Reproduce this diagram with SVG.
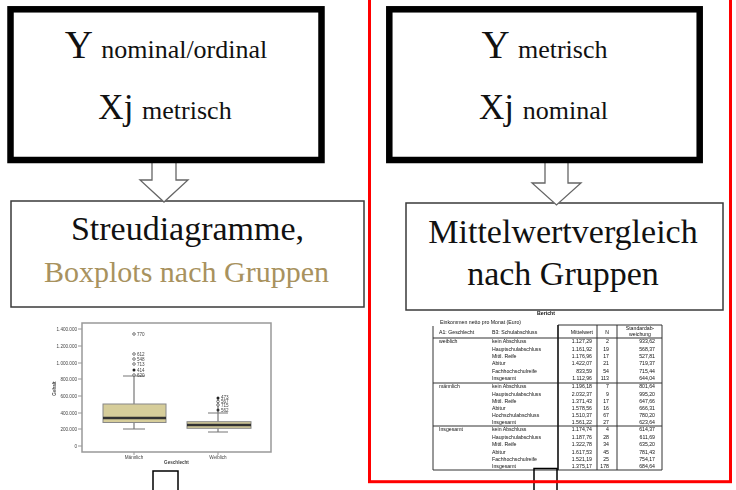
<svg xmlns="http://www.w3.org/2000/svg" width="736" height="490" viewBox="0 0 736 490">
<defs>
<style>
.serif{font-family:'Liberation Serif','DejaVu Serif','Times New Roman',Times,serif;fill:#111}
.thick{fill:#fff;stroke:#000;stroke-width:6.5}
.thin{fill:#fff;stroke:#3a3a3a;stroke-width:1.5}
.arrow{fill:#fff;stroke:#666;stroke-width:1.3}
.tiny{font-family:'Liberation Sans',Arial,sans-serif;font-size:4.6px;fill:#444}
.tb{font-family:'Liberation Sans',Arial,sans-serif;font-size:5.2px;fill:#111}
.grid{stroke:#333;stroke-width:1;fill:none}
.axis{stroke:#999;stroke-width:1;fill:none}
.whisk{stroke:#777;stroke-width:1.2;fill:none}
.bx{fill:#d6cd9a;stroke:#888;stroke-width:1}
.med{stroke:#333;stroke-width:2.4}
.out{fill:#fff;stroke:#555;stroke-width:0.8}
.stub{fill:none;stroke:#000;stroke-width:1.5}
</style>
<!-- the embedded chart and report are slightly soft -->
<filter id="soft" x="-5%" y="-5%" width="110%" height="110%"><feGaussianBlur stdDeviation="0.5"/></filter>
</defs>
<rect width="736" height="490" fill="#fff"/>

<!-- lower result boxes -->
<g id="node-streudiagramme">
<rect class="thin" x="11" y="201" width="353" height="106"/>
<text class="serif" x="187.5" y="240" font-size="34" text-anchor="middle">Streudiagramme,</text>
<text class="serif" x="186.5" y="282" font-size="30" text-anchor="middle" style="fill:#a8925e">Boxplots nach Gruppen</text>
</g>
<g id="node-mittelwertvergleich">
<rect class="thin" x="406" y="203" width="317" height="107"/>
<text class="serif" x="563" y="243" font-size="34" text-anchor="middle">Mittelwertvergleich</text>
<text class="serif" x="563" y="285" font-size="34" text-anchor="middle">nach Gruppen</text>
</g>

<!-- block arrows -->
<g id="connectors">
<path class="arrow" d="M152,160 L176,160 L176,180 L188,180 L164,202 L140,180 L152,180 Z"/>
<path class="arrow" d="M545,160 L568,160 L568,183 L581,183 L556.5,205 L532,183 L545,183 Z"/>
</g>

<!-- variable type boxes -->
<g id="node-y-nominal">
<rect class="thick" x="10.5" y="9.3" width="311" height="150.7"/>
<text class="serif" x="166" y="58" text-anchor="middle"><tspan font-size="39">Y </tspan><tspan font-size="26">nominal/ordinal</tspan></text>
<text class="serif" x="165" y="119" text-anchor="middle"><tspan font-size="35">Xj </tspan><tspan font-size="26">metrisch</tspan></text>
</g>
<g id="node-y-metrisch">
<rect class="thick" x="389.3" y="9.3" width="310.4" height="150.7"/>
<text class="serif" x="544.5" y="58" text-anchor="middle"><tspan font-size="39">Y </tspan><tspan font-size="26">metrisch</tspan></text>
<text class="serif" x="543.5" y="119" text-anchor="middle"><tspan font-size="35">Xj </tspan><tspan font-size="26">nominal</tspan></text>
</g>

<!-- boxplot chart -->
<g id="boxplot" filter="url(#soft)">
<rect x="82" y="323" width="189" height="129" fill="#fff" stroke="#999" stroke-width="1.5"/>
<g class="axis">
<path d="M78,329H82M78,346H82M78,363H82M78,379H82M78,396H82M78,413H82M78,429H82M78,446H82M134,452V455M218,452V455"/>
</g>
<g class="tiny" text-anchor="end">
<text x="77" y="330.5">1.400.000</text>
<text x="77" y="347.5">1.200.000</text>
<text x="77" y="364.5">1.000.000</text>
<text x="77" y="380.5">800.000</text>
<text x="77" y="397.5">600.000</text>
<text x="77" y="414.5">400.000</text>
<text x="77" y="430.5">200.000</text>
<text x="77" y="447.5">0</text>
</g>
<text class="tiny" x="54" y="388.5" text-anchor="middle" font-weight="bold" transform="rotate(-90 54 388.5)" dy="1.5">Gehalt</text>
<text class="tiny" x="134" y="458.5" text-anchor="middle">Männlich</text>
<text class="tiny" x="218" y="458.5" text-anchor="middle">Weiblich</text>
<text class="tiny" x="176.5" y="464" text-anchor="middle" font-weight="bold">Geschlecht</text>
<!-- group 1 -->
<path class="whisk" d="M134,376V404M134,422V429M123,376H145M123,429H145"/>
<rect class="bx" x="103" y="404" width="63" height="18.5"/>
<line class="med" x1="103" y1="418" x2="166" y2="418"/>
<circle class="out" cx="134" cy="334" r="1.3"/>
<circle class="out" cx="134" cy="354" r="1.3"/>
<circle class="out" cx="134" cy="359" r="1.3"/>
<circle class="out" cx="134" cy="364" r="1.3"/>
<circle cx="134" cy="370" r="1.5" fill="#222"/>
<circle class="out" cx="134" cy="375" r="1.3"/>
<g class="tiny">
<text x="137" y="335.5">770</text>
<text x="137" y="355.5">612</text>
<text x="137" y="360.5">548</text>
<text x="137" y="365.5">713</text>
<text x="137" y="371.5">414</text>
<text x="137" y="376.5">620</text>
</g>
<!-- group 2 -->
<path class="whisk" d="M218,398V422M218,428V432M208,413H228M208,432H228"/>
<rect class="bx" x="187" y="421.7" width="64" height="6.6"/>
<line class="med" x1="187" y1="425" x2="251" y2="425"/>
<circle cx="218" cy="398" r="1.5" fill="#222"/>
<circle class="out" cx="218" cy="401.5" r="1.3"/>
<circle class="out" cx="218" cy="405" r="1.3"/>
<circle cx="218" cy="410" r="1.5" fill="#333"/>
<g class="tiny">
<text x="221" y="399">473</text>
<text x="221" y="402.5">567</text>
<text x="221" y="406.5">715</text>
<text x="221" y="411.5">562</text>
</g>
</g>

<!-- report table -->
<g id="report-table" filter="url(#soft)">
<text class="tb" x="546" y="315" text-anchor="middle" font-weight="bold">Bericht</text>
<text class="tb" x="440" y="324">Einkommen netto pro Monat (Euro)</text>
<path class="grid" d="M433,326V470H662V325H558M433,338H662M433,383H662M433,426H662M597,325V470M617,325V470"/>
<path d="M558,325V470" stroke="#111" stroke-width="1.6"/>
<g class="tb">
<text x="439" y="333.5">A1: Geschlecht</text>
<text x="492" y="333.5">B3: Schulabschluss</text>
<text x="593" y="333.5" text-anchor="end">Mittelwert</text>
<text x="607" y="333.5" text-anchor="middle">N</text>
<text x="640" y="330" text-anchor="middle">Standardab-</text>
<text x="640" y="335.5" text-anchor="middle">weichung</text>
<text x="439" y="343.3">weiblich</text>
<text x="439" y="388.3">männlich</text>
<text x="439" y="431.3">Insgesamt</text>
</g>
<g class="tb">
<text x="492" y="343.3">kein Abschluss</text>
<text x="492" y="350.6">Hauptschulabschluss</text>
<text x="492" y="357.9">Mittl. Reife</text>
<text x="492" y="365.2">Abitur</text>
<text x="492" y="372.5">Fachhochschulreife</text>
<text x="492" y="379.8">Insgesamt</text>
<text x="492" y="388.3">kein Abschluss</text>
<text x="492" y="395.5">Hauptschulabschluss</text>
<text x="492" y="402.7">Mittl. Reife</text>
<text x="492" y="409.9">Abitur</text>
<text x="492" y="417.1">Hochschulabschluss</text>
<text x="492" y="424.3">Insgesamt</text>
<text x="492" y="431.3">kein Abschluss</text>
<text x="492" y="438.7">Hauptschulabschluss</text>
<text x="492" y="446.1">Mittl. Reife</text>
<text x="492" y="453.5">Abitur</text>
<text x="492" y="460.9">Fachhochschulreife</text>
<text x="492" y="468.3">Insgesamt</text>
</g>
<g class="tb" text-anchor="end">
<text x="592" y="343.3">1.127,29</text><text x="609" y="343.3">2</text><text x="655" y="343.3">933,62</text>
<text x="592" y="350.6">1.161,92</text><text x="609" y="350.6">19</text><text x="655" y="350.6">568,37</text>
<text x="592" y="357.9">1.176,96</text><text x="609" y="357.9">17</text><text x="655" y="357.9">527,81</text>
<text x="592" y="365.2">1.422,07</text><text x="609" y="365.2">21</text><text x="655" y="365.2">719,37</text>
<text x="592" y="372.5">833,59</text><text x="609" y="372.5">54</text><text x="655" y="372.5">715,44</text>
<text x="592" y="379.8">1.112,96</text><text x="609" y="379.8">113</text><text x="655" y="379.8">644,04</text>
<text x="592" y="388.3">1.196,18</text><text x="609" y="388.3">7</text><text x="655" y="388.3">801,64</text>
<text x="592" y="395.5">2.032,37</text><text x="609" y="395.5">9</text><text x="655" y="395.5">995,20</text>
<text x="592" y="402.7">1.371,43</text><text x="609" y="402.7">17</text><text x="655" y="402.7">647,66</text>
<text x="592" y="409.9">1.578,56</text><text x="609" y="409.9">16</text><text x="655" y="409.9">666,31</text>
<text x="592" y="417.1">1.510,37</text><text x="609" y="417.1">67</text><text x="655" y="417.1">780,20</text>
<text x="592" y="424.3">1.561,22</text><text x="609" y="424.3">27</text><text x="655" y="424.3">623,64</text>
<text x="592" y="431.3">1.174,74</text><text x="609" y="431.3">4</text><text x="655" y="431.3">614,37</text>
<text x="592" y="438.7">1.187,76</text><text x="609" y="438.7">28</text><text x="655" y="438.7">611,69</text>
<text x="592" y="446.1">1.322,78</text><text x="609" y="446.1">34</text><text x="655" y="446.1">635,20</text>
<text x="592" y="453.5">1.617,53</text><text x="609" y="453.5">45</text><text x="655" y="453.5">781,43</text>
<text x="592" y="460.9">1.521,19</text><text x="609" y="460.9">25</text><text x="655" y="460.9">754,17</text>
<text x="592" y="468.3">1.375,17</text><text x="609" y="468.3">178</text><text x="655" y="468.3">684,64</text>
</g>
</g>

<!-- boxes continuing below the page edge -->
<g id="node-stub-left"><rect class="stub" x="153" y="471" width="25" height="30"/></g>
<g id="node-stub-right"><rect class="stub" x="534" y="468.5" width="23" height="30"/></g>

<!-- highlight frame -->
<g id="highlight">
<rect x="369.5" y="-5" width="361" height="486.7" fill="none" stroke="#f00" stroke-width="3"/>
</g>
</svg>
